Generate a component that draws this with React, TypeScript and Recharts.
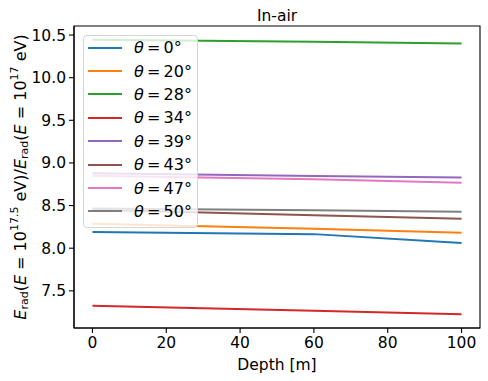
import { LineChart, Line, XAxis, YAxis, Legend, ReferenceArea } from "recharts";

const depths = [0, 60, 100];
const angles = [0, 20, 28, 34, 39, 43, 47, 50];
const ratioTheta0 = [8.19, 8.165, 8.06];
const ratioTheta20 = [8.287, 8.228, 8.182];
const ratioTheta28 = [10.445, 10.42, 10.4];
const ratioTheta34 = [7.324, 7.265, 7.225];
const ratioTheta39 = [8.878, 8.848, 8.828];
const ratioTheta43 = [8.452, 8.387, 8.346];
const ratioTheta47 = [8.851, 8.81, 8.769];
const ratioTheta50 = [8.467, 8.444, 8.428];
const xTicks = [0, 20, 40, 60, 80, 100];
const yTicks = [7.5, 8.0, 8.5, 9.0, 9.5, 10.0, 10.5];
const xDomain = [-5, 105];
const yDomain = [7.064, 10.606];

const colors = [
  "#1f77b4",
  "#ff7f0e",
  "#2ca02c",
  "#d62728",
  "#9467bd",
  "#8c564b",
  "#e377c2",
  "#7f7f7f",
];
const seriesValues = [
  ratioTheta0,
  ratioTheta20,
  ratioTheta28,
  ratioTheta34,
  ratioTheta39,
  ratioTheta43,
  ratioTheta47,
  ratioTheta50,
];

const data = depths.map((d, i) => {
  const row: Record<string, number> = { depth: d };
  angles.forEach((a, k) => {
    row["t" + a] = seriesValues[k][i];
  });
  return row;
});

const FONT = "'DejaVu Sans', sans-serif";
const FS = 15.5;

const TitleLabel = (props: any) => {
  const vb = props.viewBox || { x: 74, y: 26, width: 406 };
  return (
    <text
      x={vb.x + vb.width / 2}
      y={vb.y - 5.5}
      textAnchor="middle"
      fontFamily={FONT}
      fontSize={FS}
      fill="#000"
    >
      In-air
    </text>
  );
};

// rotated mathtext-like y label
const YLabel = (props: any) => {
  const vb = props.viewBox || { x: 0, y: 26, width: 74, height: 302 };
  const cx = 20;
  const cy = vb.y + vb.height / 2;
  const small = 11;
  return (
    <text
      transform={`translate(${cx},${cy}) rotate(-90)`}
      textAnchor="middle"
      fontFamily={FONT}
      fontSize={16}
      fill="#000"
      dominantBaseline="central"
    >
      <tspan fontStyle="italic">E</tspan>
      <tspan fontSize={small} dy={4}>rad</tspan>
      <tspan dy={-4}>(</tspan>
      <tspan fontStyle="italic">E</tspan>
      <tspan> = 10</tspan>
      <tspan fontSize={small} dy={-6}>17.5</tspan>
      <tspan dy={6}> eV)/</tspan>
      <tspan fontStyle="italic">E</tspan>
      <tspan fontSize={small} dy={4}>rad</tspan>
      <tspan dy={-4}>(</tspan>
      <tspan fontStyle="italic">E</tspan>
      <tspan> = 10</tspan>
      <tspan fontSize={small} dy={-6}>17</tspan>
      <tspan dy={6}> eV)</tspan>
    </text>
  );
};

const LegendBox = () => (
  <div
    style={{
      background: "rgba(255,255,255,0.8)",
      border: "1px solid #d5d5d5",
      borderRadius: 4,
      padding: "0px 0 4px 0",
      width: 113,
      fontFamily: FONT,
      fontSize: 16,
      color: "#000",
    }}
  >
    {angles.map((a, k) => (
      <div
        key={a}
        style={{ display: "flex", alignItems: "center", height: 23.4 }}
      >
        <svg width={50} height={10} style={{ flex: "none" }}>
          <line x1={4} x2={38} y1={5} y2={5} stroke={colors[k]} strokeWidth={2} />
        </svg>
        <span style={{ whiteSpace: "nowrap" }}>
          <i>θ</i>
          {"\u2009=\u2009"}
          {a}°
        </span>
      </div>
    ))}
  </div>
);

export default function App() {
  return (
    <div style={{ position: "absolute", left: 0, top: 0 }}>
      <LineChart
        width={488}
        height={381}
        data={data}
        margin={{ top: 26, right: 8, left: 0, bottom: 0 }}
      >
        <XAxis
          dataKey="depth"
          type="number"
          domain={xDomain}
          ticks={xTicks}
          tick={{ fill: "#000", fontSize: FS, fontFamily: FONT }}
          tickSize={5}
          tickMargin={4}
          height={53}
          axisLine={{ stroke: "#000", strokeWidth: 1.1 }}
          tickLine={{ stroke: "#000", strokeWidth: 1.1 }}
          label={{
            value: "Depth [m]",
            position: "insideBottom",
            offset: 11,
            fill: "#000",
            fontSize: FS,
            fontFamily: FONT,
          }}
        />
        <YAxis
          type="number"
          domain={yDomain}
          ticks={yTicks}
          tickFormatter={(v: number) => v.toFixed(1)}
          tick={{ fill: "#000", fontSize: FS, fontFamily: FONT }}
          tickSize={5}
          tickMargin={3}
          width={74}
          axisLine={{ stroke: "#000", strokeWidth: 1.1 }}
          tickLine={{ stroke: "#000", strokeWidth: 1.1 }}
          label={<YLabel />}
        />
        <ReferenceArea
          x1={xDomain[0]}
          x2={xDomain[1]}
          y1={yDomain[0]}
          y2={yDomain[1]}
          fill="none"
          fillOpacity={0}
          stroke="#000"
          strokeWidth={1.1}
          ifOverflow="visible"
          label={<TitleLabel />}
        />
        {angles.map((a, k) => (
          <Line
            key={a}
            dataKey={"t" + a}
            name={`θ = ${a}°`}
            stroke={colors[k]}
            strokeWidth={2}
            dot={false}
            type="linear"
            isAnimationActive={false}
          />
        ))}
        <Legend
          layout="horizontal"
          verticalAlign="middle"
          align="center"
          content={<LegendBox />}
          wrapperStyle={{ position: "absolute", left: 83, top: 35, width: "auto" }}
        />
      </LineChart>
    </div>
  );
}
